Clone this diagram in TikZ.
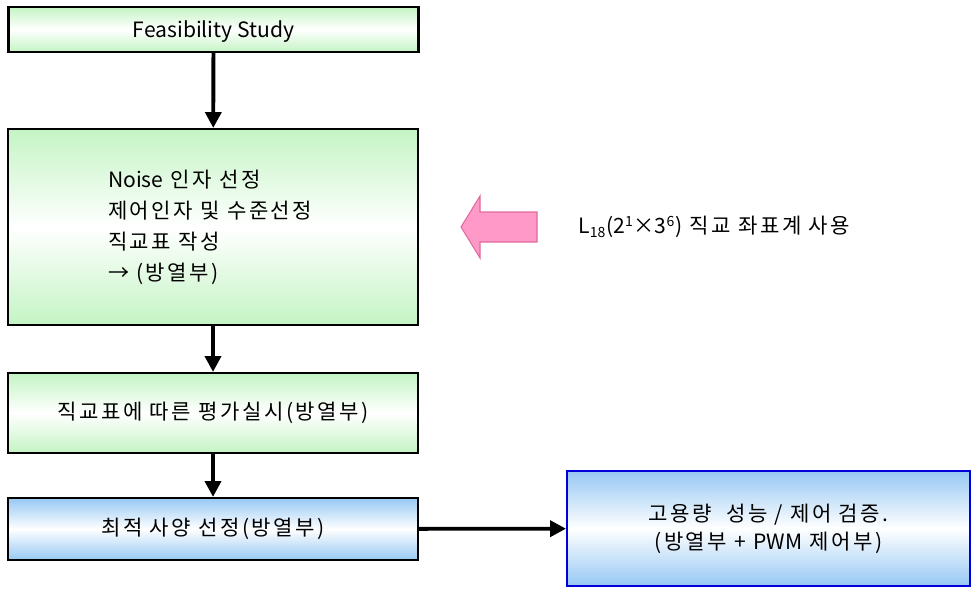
\documentclass[tikz,border=0pt]{standalone}
\usepackage{fontspec}
\setmainfont{Noto Sans CJK KR}
\newfontfamily\krwide[LetterSpace=12]{Noto Sans CJK KR}
\usetikzlibrary{arrows.meta}
\definecolor{boxgreen}{HTML}{C4F4C4}
\definecolor{boxblue}{HTML}{96C8F4}
\definecolor{arrowpink}{HTML}{FF99C8}
\definecolor{pinkedge}{HTML}{E06A9E}

\begin{document}
\begin{tikzpicture}[x=0.02cm,y=-0.02cm,font=\krwide\fontsize{12}{17.6}\selectfont,
  greenbox/.style={draw,line width=1.2pt,top color=boxgreen,bottom color=boxgreen,middle color=white,minimum width=8.2cm,inner sep=0pt,align=center},
  bluebox/.style={draw,line width=1.2pt,top color=boxblue,bottom color=boxblue,middle color=white,minimum width=8.2cm,inner sep=0pt,align=center},
  flow/.style={line width=2.2pt,-{Triangle[length=9pt,width=9pt]}}]
  \useasboundingbox (0,0) rectangle (980,599);
  \node[greenbox,minimum height=0.9cm,text depth=0pt,font=\normalfont\fontsize{12}{17.6}\selectfont] (feas) at (213.5,29.5) {Feasibility Study};
  \node[greenbox,minimum height=3.92cm,align=left] (doe) at (213,227) {\raisebox{-5pt}{\parbox{4.2cm}{{\normalfont Noise} 인자 선정\\제어인자 및 수준선정\\직교표 작성\\→ (방열부)}}};
  \node[greenbox,minimum height=1.6cm] (test) at (213,413) {직교표에 따른 평가실시(방열부)};
  \node[bluebox,minimum height=1.24cm] (opt) at (213,529) {최적 사양 선정(방열부)};
  \node[bluebox,draw=blue!85!black,minimum width=8.06cm,minimum height=2.3cm,font=\krwide\fontsize{12}{16}\selectfont] (verify) at (768.5,528.5) {고용량 \ 성능 / 제어 검증.\\(방열부 + {\normalfont PWM} 제어부)};
  \node[anchor=west,inner sep=0pt] (ortho) at (578,227) {{\normalfont L\textsubscript{18}(2\textsuperscript{1}×3\textsuperscript{6})} 직교 좌표계 사용};
  % pink pointer towards the design box
  \draw[fill=arrowpink,draw=pinkedge,line width=0.6pt] (537,212) -- (480,212) -- (480,196) -- (461,227) -- (480,258) -- (480,242) -- (537,242) -- cycle;
  \foreach \a/\b in {feas/doe,doe/test,test/opt} \draw[flow] (\a) -- (\b);
  \draw[flow] (opt) -- (verify);
\end{tikzpicture}
\end{document}
